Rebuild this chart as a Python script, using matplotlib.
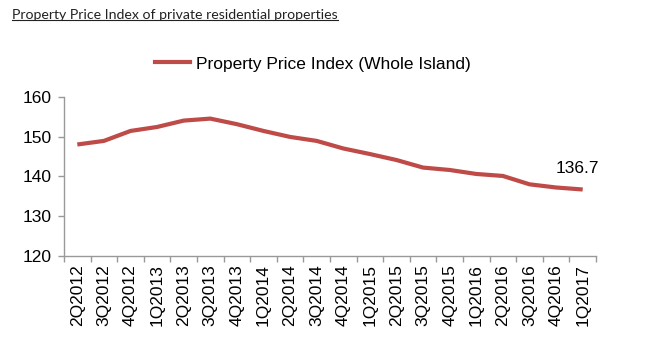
import matplotlib
matplotlib.use("Agg")
import matplotlib.pyplot as plt
from matplotlib.lines import Line2D

quarters = ["2Q2012", "3Q2012", "4Q2012", "1Q2013", "2Q2013", "3Q2013", "4Q2013",
            "1Q2014", "2Q2014", "3Q2014", "4Q2014", "1Q2015", "2Q2015", "3Q2015",
            "4Q2015", "1Q2016", "2Q2016", "3Q2016", "4Q2016", "1Q2017"]
ppi = [148.0, 148.9, 151.4, 152.4, 154.0, 154.5, 153.1, 151.4, 149.9, 148.9,
       147.0, 145.6, 144.1, 142.2, 141.6, 140.6, 140.1, 138.0, 137.2, 136.7]
series_name = "Property Price Index (Whole Island)"
title = "Property Price Index of private residential properties"
y_ticks = [120, 130, 140, 150, 160]

plt.rcParams['font.family'] = ['Liberation Sans', 'DejaVu Sans']
fig = plt.figure(figsize=(6.52, 3.5), dpi=100)
ax = fig.add_axes([64/652, 1-256/350, (596-64)/652, (256-96.7)/350])

color = '#BE4B48'
x = list(range(len(quarters)))
ax.plot(x, ppi, color=color, lw=3, solid_capstyle='butt')
ax.set_xlim(-0.5, len(quarters)-0.5)
ax.set_ylim(120, 160)
ax.set_yticks(y_ticks)
ax.tick_params(axis='y', labelsize=12.5, length=4, color='#999999', width=1, pad=5)
ax.set_xticks(x)
ax.set_xticklabels(quarters, rotation=90, fontsize=12.5)
ax.tick_params(axis='x', which='major', length=0, pad=6)
ax.set_xticks([i - 0.5 for i in range(len(quarters)+1)], minor=True)
ax.tick_params(axis='x', which='minor', length=4, color='#999999', width=1)
for s in ['top', 'right']:
    ax.spines[s].set_visible(False)
for s in ['left', 'bottom']:
    ax.spines[s].set_color('#999999')
    ax.spines[s].set_linewidth(1)

ax.annotate(f"{ppi[-1]:.1f}", xy=(x[-1], ppi[-1]), xytext=(-4, 15),
            textcoords='offset points', ha='center', va='center', fontsize=12.5)

fig.legend(handles=[Line2D([0], [0], color=color, lw=3)], labels=[series_name],
           loc='center', bbox_to_anchor=(313/652, 1-64/350), frameon=False,
           fontsize=12.5, handlelength=2.0, handletextpad=0.4)

t = fig.text(12/652, 1-15/350, title, fontsize=10.2, family=['Lato', 'DejaVu Sans'],
             color='#222222', va='center', ha='left')
fig.canvas.draw()
bb = t.get_window_extent().transformed(fig.transFigure.inverted())
fig.add_artist(Line2D([bb.x0, bb.x1], [bb.y0 + 0.004, bb.y0 + 0.004], color='#222222', lw=0.8,
                      transform=fig.transFigure))

fig.savefig("out.png", dpi=100)
